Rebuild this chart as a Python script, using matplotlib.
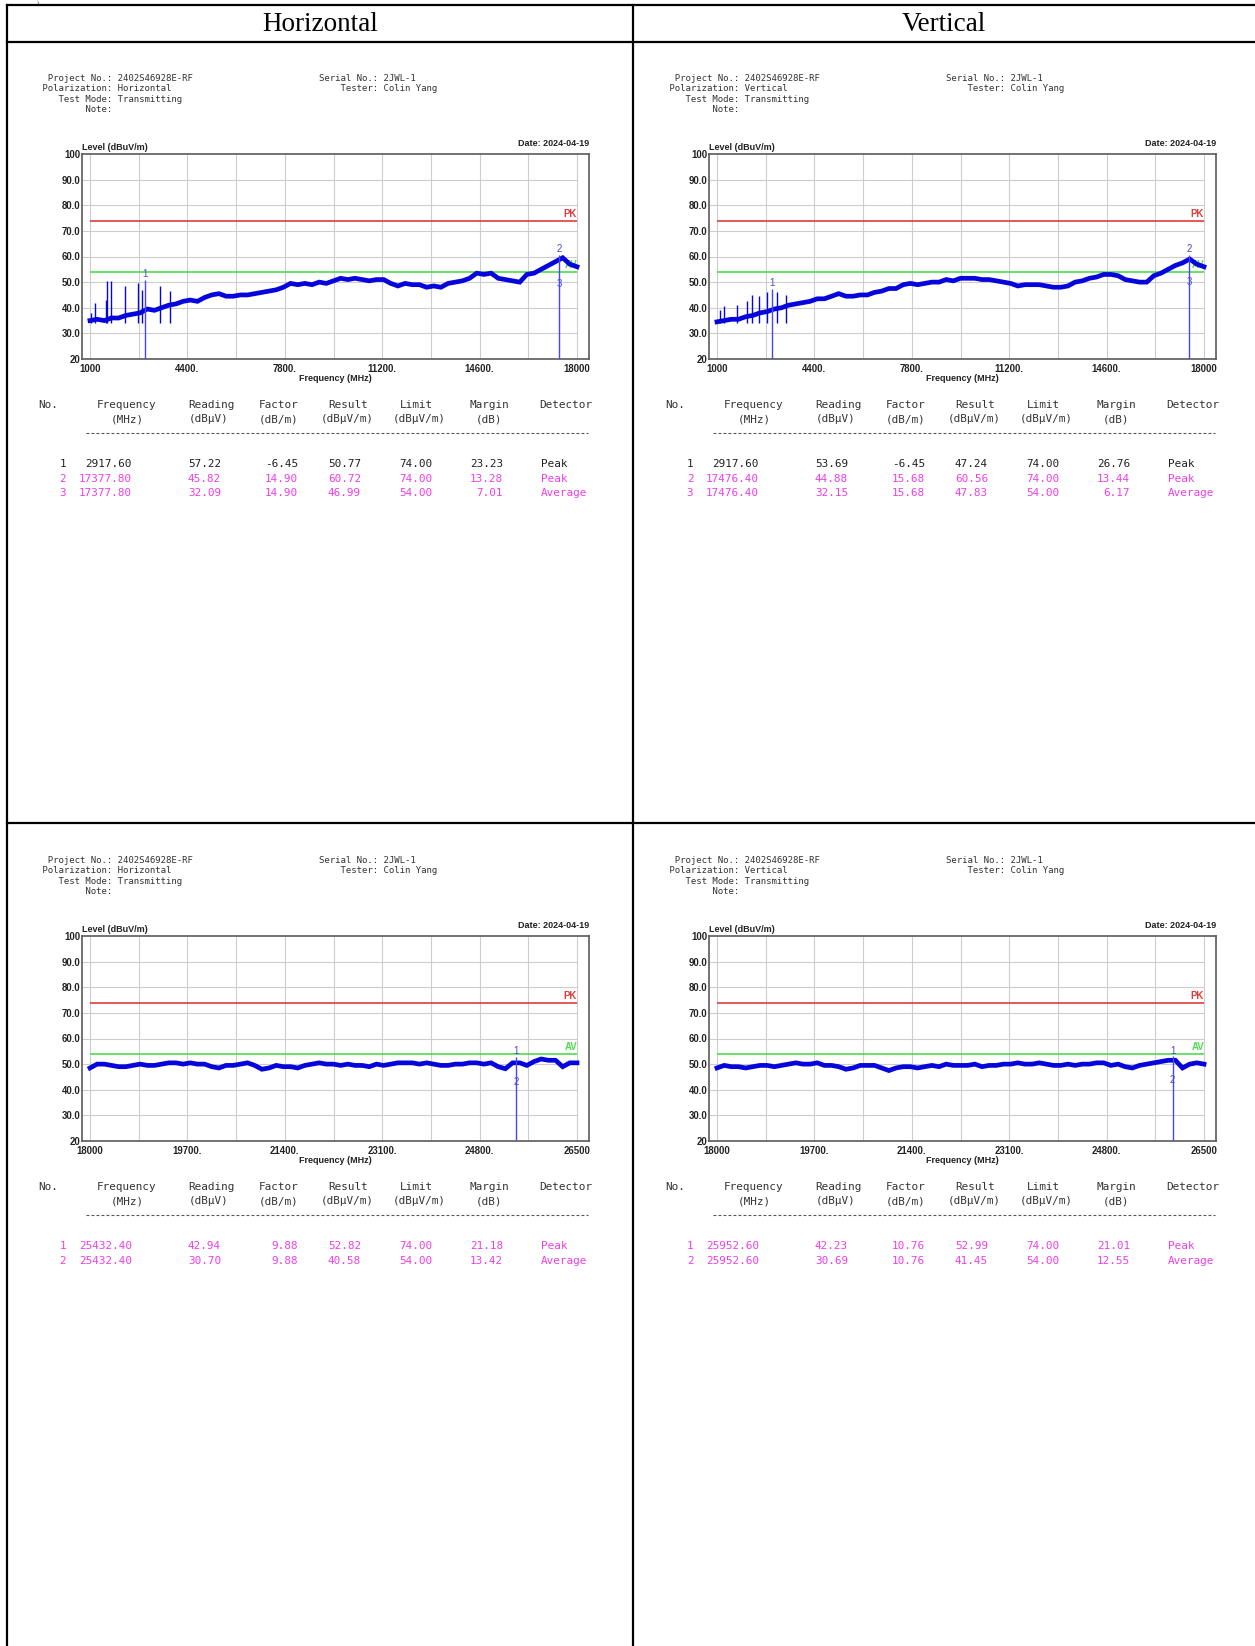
import matplotlib

matplotlib.use("Agg")
import matplotlib.pyplot as plt
import numpy as np

W, H = 1255, 1646

# ---- report data -------------------------------------------------------
POLARIZATIONS = ["Horizontal", "Vertical"]
PROJECT_NO = "2402S46928E-RF"
SERIAL_NO = "2JWL-1"
TESTER = "Colin Yang"
TEST_MODE = "Transmitting"
TEST_DATE = "2024-04-19"

PK_LIMIT = 74.0
AV_LIMIT = 54.0

LOW_SPAN = (1000, 18000)
HIGH_SPAN = (18000, 26500)
LOW_TICKS = ["1000", "4400.", "7800.", "11200.", "14600.", "18000"]
HIGH_TICKS = ["18000", "19700.", "21400.", "23100.", "24800.", "26500"]
Y_TICKS = [20, 30, 40, 50, 60, 70, 80, 90, 100]
Y_LABELS = ["20", "30.0", "40.0", "50.0", "60.0", "70.0", "80.0", "90.0", "100"]

LOW_H = [35.0, 35.5, 35.0, 36.0, 36.0, 37.0, 37.5, 38.0, 39.5, 39.0,
         40.0, 41.0, 41.5, 42.5, 43.0, 42.5, 44.0, 45.0, 45.5, 44.5,
         44.5, 45.0, 45.0, 45.5, 46.0, 46.5, 47.0, 48.0, 49.5, 49.0,
         49.5, 49.0, 50.0, 49.5, 50.5, 51.5, 51.0, 51.5, 51.0, 50.5,
         51.0, 51.0, 49.5, 48.5, 49.5, 49.0, 49.0, 48.0, 48.5, 48.0,
         49.5, 50.0, 50.5, 51.5, 53.5, 53.0, 53.5, 51.5, 51.0, 50.5,
         50.0, 53.0, 53.5, 55.0, 56.5, 58.0, 59.5, 57.0, 56.0]
LOW_V = [34.5, 35.0, 35.5, 35.5, 36.5, 37.0, 38.0, 38.5, 39.5, 40.0,
         41.0, 41.5, 42.0, 42.5, 43.5, 43.5, 44.5, 45.5, 44.5, 44.5,
         45.0, 45.0, 46.0, 46.5, 47.5, 47.5, 49.0, 49.5, 49.0, 49.5,
         50.0, 50.0, 51.0, 50.5, 51.5, 51.5, 51.5, 51.0, 51.0, 50.5,
         50.0, 49.5, 48.5, 49.0, 49.0, 49.0, 48.5, 48.0, 48.0, 48.5,
         50.0, 50.5, 51.5, 52.0, 53.0, 53.0, 52.5, 51.0, 50.5, 50.0,
         50.0, 52.5, 53.5, 55.0, 56.5, 57.5, 59.0, 57.0, 56.0]
HIGH_H = [48.5, 50.0, 50.0, 49.5, 49.0, 49.0, 49.5, 50.0, 49.5, 49.5,
          50.0, 50.5, 50.5, 50.0, 50.5, 50.0, 50.0, 49.0, 48.5, 49.5,
          49.5, 50.0, 50.5, 49.5, 48.0, 48.5, 49.5, 49.0, 49.0, 48.5,
          49.5, 50.0, 50.5, 50.0, 50.0, 49.5, 50.0, 49.5, 49.5, 49.0,
          50.0, 49.5, 50.0, 50.5, 50.5, 50.5, 50.0, 50.5, 50.0, 49.5,
          49.5, 50.0, 50.0, 50.5, 50.5, 50.0, 50.5, 49.0, 48.2, 50.5,
          50.5, 49.5, 51.0, 52.0, 51.5, 51.5, 49.0, 50.5, 50.5]
HIGH_V = [48.5, 49.5, 49.0, 49.0, 48.5, 49.0, 49.5, 49.5, 49.0, 49.5,
          50.0, 50.5, 50.0, 50.0, 50.5, 49.5, 49.5, 49.0, 48.0, 48.5,
          49.5, 49.5, 49.5, 48.5, 47.5, 48.5, 49.0, 49.0, 48.5, 49.0,
          49.5, 49.0, 50.0, 49.5, 49.5, 49.5, 50.0, 49.0, 49.5, 49.5,
          50.0, 50.0, 50.5, 50.0, 50.0, 50.5, 50.0, 49.5, 49.5, 50.0,
          49.5, 50.0, 50.0, 50.5, 50.5, 49.5, 50.0, 49.0, 48.5, 49.5,
          50.0, 50.5, 51.0, 51.5, 51.5, 48.5, 50.0, 50.5, 50.0]

# narrow spurs in the 1-18 GHz sweeps (MHz, peak dBuV/m)
SPUR_F_H = [1040, 1170, 1550, 1600, 1730, 2230, 2690, 2820, 3450, 3790]
SPUR_DB_H = [38.0, 42.0, 43.0, 50.5, 50.5, 48.5, 49.5, 47.0, 48.5, 46.5]
SPUR_F_V = [1100, 1250, 1700, 2050, 2230, 2450, 2750, 3080, 3400]
SPUR_DB_V = [39.0, 40.5, 41.0, 42.5, 45.0, 44.5, 46.0, 46.0, 45.0]
SPUR_F_NONE = []
SPUR_DB_NONE = []

TABLE_HEAD = ["No.", "Frequency", "Reading", "Factor", "Result", "Limit", "Margin", "Detector"]
TABLE_UNITS = ["", "(MHz)", "(dBμV)", "(dB/m)", "(dBμV/m)", "(dBμV/m)", "(dB)", ""]

ROWS_LOW_H = [
    ["1", "2917.60", "57.22", "-6.45", "50.77", "74.00", "23.23", "Peak"],
    ["2", "17377.80", "45.82", "14.90", "60.72", "74.00", "13.28", "Peak"],
    ["3", "17377.80", "32.09", "14.90", "46.99", "54.00", "7.01", "Average"],
]
ROWS_LOW_V = [
    ["1", "2917.60", "53.69", "-6.45", "47.24", "74.00", "26.76", "Peak"],
    ["2", "17476.40", "44.88", "15.68", "60.56", "74.00", "13.44", "Peak"],
    ["3", "17476.40", "32.15", "15.68", "47.83", "54.00", "6.17", "Average"],
]
ROWS_HIGH_H = [
    ["1", "25432.40", "42.94", "9.88", "52.82", "74.00", "21.18", "Peak"],
    ["2", "25432.40", "30.70", "9.88", "40.58", "54.00", "13.42", "Average"],
]
ROWS_HIGH_V = [
    ["1", "25952.60", "42.23", "10.76", "52.99", "74.00", "21.01", "Peak"],
    ["2", "25952.60", "30.69", "10.76", "41.45", "54.00", "12.55", "Average"],
]
HILITE_LOW = [False, True, True]
HILITE_HIGH = [True, True]

# ---- styling -------------------------------------------------------------
MONO = ["DejaVu Sans Mono"]
SANS = ["Liberation Sans", "DejaVu Sans"]
SERIF = ["Liberation Serif", "DejaVu Serif"]
TRACE = "#0606dc"
MARKER = "#4646ff"
MARK_TXT = "#4b4bcf"
MAGENTA = "#ee3ee8"
GRID = "#cdcdcd"
INK = "#222222"

COL_DX = 627
ROW_DY = 782

HEAD_X = [48, 127, 211, 279, 348, 416, 489, 566]
UNIT_X = [48, 127, 209, 279, 347, 419, 489, 566]
CELL_X = [63, 132, 221, 298, 361, 432, 503, 541]
CELL_HA = ["center", "right", "right", "right", "right", "right", "right", "left"]
TABLE_FS = 7.9


def px_axes(fig, x0, y0, x1, y1):
    return fig.add_axes([x0 / W, 1 - y1 / H, (x1 - x0) / W, (y1 - y0) / H])


def draw_chart(fig, ox, oy, span, tick_labels, levels, spur_f, spur_db, rows):
    f0, f1 = span
    width = f1 - f0
    ax = px_axes(fig, 82 + ox, 154 + oy, 589 + ox, 359 + oy)
    x_lo = f0 - width * 8 / 487
    ax.set_xlim(x_lo, f1 + width * 12 / 487)
    ax.set_ylim(20, 100)

    grid_f = np.linspace(f0, f1, 11)
    ax.vlines(grid_f, 20, 100, color=GRID, lw=0.8, zorder=1)
    ax.hlines(Y_TICKS[1:-1], x_lo, f1, color=GRID, lw=0.8, zorder=1)

    ax.set_xticks(grid_f[::2])
    ax.set_xticklabels(tick_labels)
    ax.set_yticks(Y_TICKS)
    ax.set_yticklabels(Y_LABELS)
    ax.tick_params(length=0, labelsize=6.9, colors=INK)
    ax.tick_params(axis="x", pad=3.5)
    ax.tick_params(axis="y", pad=1)
    for lab in ax.get_xticklabels() + ax.get_yticklabels():
        lab.set_fontweight("bold")
        lab.set_family(SANS)
    for spine in ax.spines.values():
        spine.set_color("#5a5a5a")
        spine.set_linewidth(1.2)

    ax.hlines(PK_LIMIT, f0, f1, color="#e23b3b", lw=1.2, zorder=2)
    ax.hlines(AV_LIMIT, f0, f1, color="#4fdc4f", lw=1.2, zorder=2)
    ax.text(f1, PK_LIMIT + 0.8, "PK", color="#e23b3b", fontsize=6.9,
            fontweight="bold", family=SANS, ha="right", va="bottom", zorder=2)
    ax.text(f1, AV_LIMIT + 0.8, "AV", color="#4fdc4f", fontsize=6.9,
            fontweight="bold", family=SANS, ha="right", va="bottom", zorder=2)

    freqs = np.linspace(f0, f1, len(levels))
    ax.plot(freqs, levels, color=TRACE, lw=3.4, solid_joinstyle="miter", zorder=3)
    if spur_f:
        ax.vlines(spur_f, 34, spur_db, color=TRACE, lw=1.0, zorder=3)

    mk_f = [float(r[1]) for r in rows]
    mk_db = [float(r[4]) for r in rows]
    for f in sorted(set(mk_f)):
        top = max(d for ff, d in zip(mk_f, mk_db) if ff == f)
        ax.vlines(f, 20, top, color=MARKER, lw=1.0, zorder=4)
    for r, f, d in zip(rows, mk_f, mk_db):
        ax.text(f, d + 0.3, r[0], color=MARK_TXT, fontsize=7, family=SANS,
                ha="center", va="bottom", zorder=5)

    ax.text(0.0, 1.012, "Level (dBuV/m)", transform=ax.transAxes, fontsize=6.5,
            fontweight="bold", family=SANS, ha="left", va="bottom", color=INK)
    ax.text(1.0, 1.03, "Date: " + TEST_DATE, transform=ax.transAxes, fontsize=6.5,
            fontweight="bold", family=SANS, ha="right", va="bottom", color=INK)
    ax.text(0.5, -0.093, "Frequency (MHz)", transform=ax.transAxes, fontsize=6.5,
            fontweight="bold", family=SANS, ha="center", va="center", color=INK)


def draw_info(ov, ox, oy, polarization):
    left = [f"  Project No.: {PROJECT_NO}",
            f" Polarization: {polarization}",
            f"    Test Mode: {TEST_MODE}",
            "         Note:"]
    right = [f"Serial No.: {SERIAL_NO}",
             f"    Tester: {TESTER}"]
    for i, line in enumerate(left):
        ov.text(37 + ox, 78 + oy + i * 10.6, line, family=MONO, fontsize=6.5,
                color="#333333", ha="left", va="center")
    for i, line in enumerate(right):
        ov.text(319 + ox, 78 + oy + i * 10.6, line, family=MONO, fontsize=6.5,
                color="#333333", ha="left", va="center")


def draw_table(ov, ox, oy, rows, hilite):
    for x, txt in zip(HEAD_X, TABLE_HEAD):
        ov.text(x + ox, 405 + oy, txt, family=MONO, fontsize=TABLE_FS, color="#333333",
                ha="center", va="center")
    for x, txt in zip(UNIT_X, TABLE_UNITS):
        if txt:
            ov.text(x + ox, 419 + oy, txt, family=MONO, fontsize=TABLE_FS, color="#333333",
                    ha="center", va="center")
    ov.plot([86 + ox, 588 + ox], [433 + oy, 433 + oy], color="#555555", lw=0.8,
            dashes=(2.6, 1.9))
    for i, (row, hl) in enumerate(zip(rows, hilite)):
        color = MAGENTA if hl else INK
        for x, ha, txt in zip(CELL_X, CELL_HA, row):
            ov.text(x + ox, 464 + oy + i * 14.5, txt, family=MONO, fontsize=TABLE_FS,
                    color=color, ha=ha, va="center")


fig = plt.figure(figsize=(W / 100, H / 100), dpi=100, facecolor="white")
ov = fig.add_axes([0, 0, 1, 1])
ov.set_xlim(0, W)
ov.set_ylim(H, 0)
ov.axis("off")

# outer table frame of the report page
lw = 1.6
ov.plot([7, W], [5, 5], color="black", lw=lw)
ov.plot([7, W], [42, 42], color="black", lw=lw)
ov.plot([7, W], [823, 823], color="black", lw=lw)
ov.plot([7, 7], [5, H], color="black", lw=lw)
ov.plot([633, 633], [5, H], color="black", lw=lw)
ov.text(38, 0.5, ")", fontsize=4, family=SERIF, ha="center", va="top")

ov.text(320, 24, POLARIZATIONS[0], family=SERIF, fontsize=19.5, ha="center", va="center")
ov.text(944, 24, POLARIZATIONS[1], family=SERIF, fontsize=19.5, ha="center", va="center")

panels = [
    (0, 0, POLARIZATIONS[0], LOW_SPAN, LOW_TICKS, LOW_H, SPUR_F_H, SPUR_DB_H, ROWS_LOW_H, HILITE_LOW),
    (1, 0, POLARIZATIONS[1], LOW_SPAN, LOW_TICKS, LOW_V, SPUR_F_V, SPUR_DB_V, ROWS_LOW_V, HILITE_LOW),
    (0, 1, POLARIZATIONS[0], HIGH_SPAN, HIGH_TICKS, HIGH_H, SPUR_F_NONE, SPUR_DB_NONE, ROWS_HIGH_H, HILITE_HIGH),
    (1, 1, POLARIZATIONS[1], HIGH_SPAN, HIGH_TICKS, HIGH_V, SPUR_F_NONE, SPUR_DB_NONE, ROWS_HIGH_V, HILITE_HIGH),
]
for col, row, pol, span, ticks, levels, sf, sdb, rows, hl in panels:
    ox, oy = col * COL_DX, row * ROW_DY
    draw_info(ov, ox, oy, pol)
    draw_chart(fig, ox, oy, span, ticks, levels, sf, sdb, rows)
    draw_table(ov, ox, oy, rows, hl)

fig.savefig("out.png", dpi=100, facecolor="white")
